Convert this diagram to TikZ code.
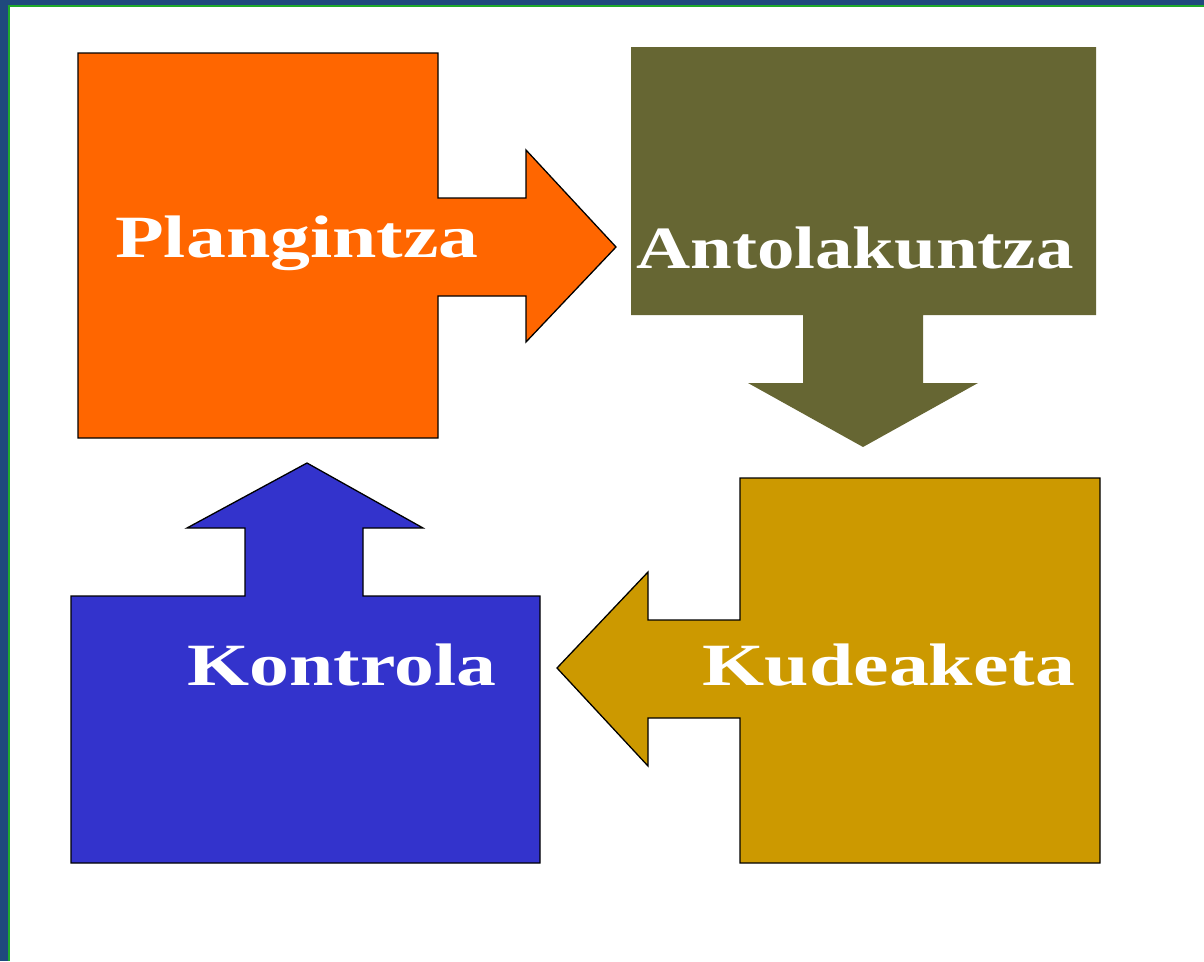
\documentclass[tikz,border=0pt]{standalone}
\usepackage{fontspec}
\newfontfamily\lblfont[FakeStretch=1.33]{Liberation Serif}
\newfontfamily\lblnarrow[FakeStretch=1.25]{Liberation Serif}
\definecolor{planorange}{HTML}{FF6600}
\definecolor{antolive}{HTML}{666633}
\definecolor{kudgold}{HTML}{CC9900}
\definecolor{kontblue}{HTML}{3333CC}
\definecolor{frameblue}{HTML}{1F497D}
\definecolor{framegreen}{HTML}{1FAA2A}

\begin{document}
\begin{tikzpicture}[
        x = 1pt, y = -1pt,
        shp/.style = {draw=black, line width=1.3pt, line join=miter},
        lbl/.style = {anchor=base, text=white, inner sep=0pt,
                      font=\lblfont\bfseries\fontsize{60}{60}\selectfont}
    ]
    \useasboundingbox (0,0) rectangle (1204,961);
    % frame
    \fill[frameblue] (0,0) rectangle (1204,5);
    \fill[frameblue] (0,0) rectangle (8,961);
    \draw[framegreen, line width=2pt] (9,961) -- (9,6) -- (1204,6);
    % Plangintza
    \path[shp, fill=planorange] (78,53) -- (438,53) -- (438,198) -- (526,198)
        -- (526,150) -- (616,247) -- (526,342) -- (526,296) -- (438,296)
        -- (438,438) -- (78,438) -- cycle;
    % Antolakuntza
    \path[fill=antolive] (631,47) -- (1096,47) -- (1096,315) -- (923,315)
        -- (923,383) -- (978,383) -- (863,447) -- (748,383) -- (803,383)
        -- (803,315) -- (631,315) -- cycle;
    % Kudeaketa
    \path[shp, fill=kudgold] (740,478) -- (1100,478) -- (1100,863) -- (740,863)
        -- (740,718) -- (648,718) -- (648,766) -- (557,668) -- (648,572)
        -- (648,620) -- (740,620) -- cycle;
    % Kontrola
    \path[shp, fill=kontblue] (71,596) -- (245,596) -- (245,528) -- (187,528)
        -- (307,463) -- (423,528) -- (363,528) -- (363,596) -- (540,596)
        -- (540,863) -- (71,863) -- cycle;

    \node (plan)  [lbl] at (297,257) {Plangintza};
    \node (antol) [lbl, font=\lblnarrow\bfseries\fontsize{60}{60}\selectfont]
        at (855,268) {Antolakuntza};
    \node (kudea) [lbl] at (889,685) {Kudeaketa};
    \node (kontr) [lbl] at (342,685) {Kontrola};
\end{tikzpicture}
\end{document}
